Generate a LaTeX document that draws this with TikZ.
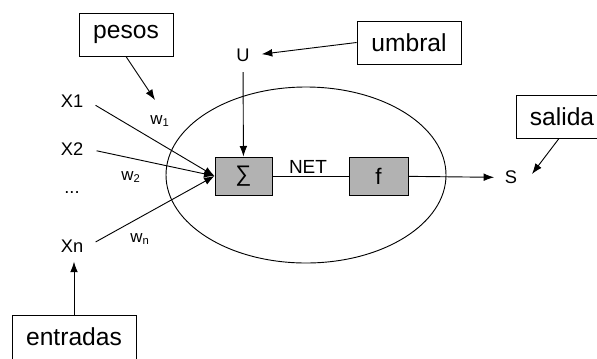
\documentclass[tikz,border=0pt]{standalone}
\usepackage{fontspec}
\setmainfont{Liberation Sans}
\usetikzlibrary{arrows.meta}
\begin{document}
\begin{tikzpicture}[x=0.025cm,y=-0.025cm,line width=0.65pt,
    >={Latex[length=7.5pt,width=5.5pt]},
    caja/.style={draw,minimum height=1.075cm,inner sep=0pt,font=\fontsize{17.5}{20}\selectfont},
    bloque/.style={draw,fill=black!30,minimum height=0.95cm,inner sep=0pt,font=\fontsize{16}{18}\selectfont},
    etq/.style={font=\fontsize{13}{15}\selectfont}]
  \useasboundingbox (0,0) rectangle (597,358);
  \clip (0,0) rectangle (597,358);
  % neurona
  \draw (306,175) ellipse [x radius=140, y radius=88];
  \node[bloque,minimum width=1.425cm] (sigma) at (243.5,176) {∑};
  \node[bloque,minimum width=1.475cm] (f) at (378.5,176) {f};
  % etiquetas
  \node[etq] (x1) at (72,101) {X1};
  \node[etq] (x2) at (72,149) {X2};
  \node[etq,anchor=base] (pts) at (72,193) {...};
  \node[etq] (xn) at (72,246) {Xn};
  \node[etq] (u) at (243,55) {U};
  \node[etq] (s) at (511,177.5) {S};
  \node[font=\fontsize{13.5}{15}\selectfont] (net) at (308,167) {NET};
  \node[font=\fontsize{12}{14}\selectfont] (w1) at (160,121) {w\textsubscript{1}};
  \node[font=\fontsize{12}{14}\selectfont] (w2) at (131,177) {w\textsubscript{2}};
  \node[font=\fontsize{12}{14}\selectfont] (wn) at (140,239) {w\textsubscript{n}};
  % cajas
  \node[caja,minimum width=2.35cm] (pesos) at (126,34.5) {pesos};
  \node[caja,minimum width=2.6cm] (umbral) at (409,42.5) {umbral};
  \node[caja,minimum width=2.3cm] (salida) at (562,116.5) {salida};
  \node[caja,minimum width=3.1cm,minimum height=1.1cm] (entradas) at (74,337) {entradas};
  % conexiones
  \foreach \x in {x1,x2,xn} \draw[->,shorten <=6pt] (\x.east) -- (sigma.west);
  \draw[->,shorten <=4pt] (u) -- (sigma);
  \draw[->,shorten >=5pt] (umbral.west) -- (u.east);
  \draw (sigma) -- (f);
  \draw[->,shorten >=4pt] (f) -- (s);
  \coordinate (pw) at (155,100);
  \draw[->] (pesos.south) -- (pw);
  \coordinate (ps) at (532,174);
  \draw[->] (salida.south) ++(-3,0) -- (ps);
  \draw[->,shorten >=3pt] (entradas.north) -- (entradas.north |- xn.south);
\end{tikzpicture}
\end{document}
